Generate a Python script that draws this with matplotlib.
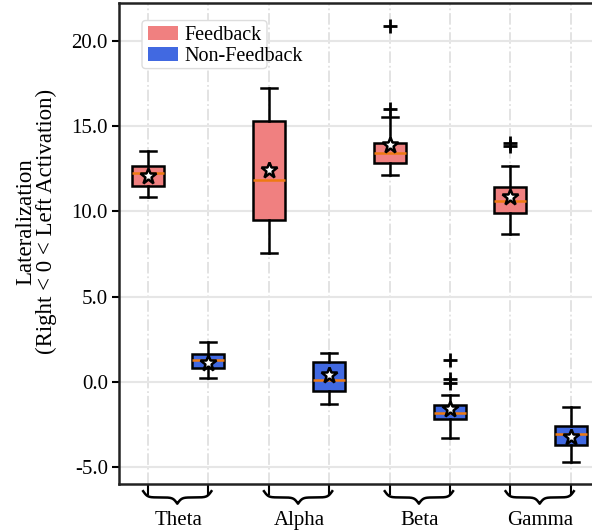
import numpy as np
import matplotlib.pyplot as plt
from matplotlib.patches import Patch, FancyBboxPatch

# ---------------------------------------------------------------------------
# data (box statistics per band)
# ---------------------------------------------------------------------------
bands = ["Theta", "Alpha", "Beta", "Gamma"]
groups = ["Feedback", "Non-Feedback"]
colors = ["#F08080", "#4169E1"]

fb_whislo = [10.83, 7.55, 12.14, 8.66]
fb_q1 = [11.50, 9.50, 12.83, 9.89]
fb_med = [12.24, 11.85, 13.39, 10.60]
fb_q3 = [12.67, 15.27, 14.00, 11.44]
fb_whishi = [13.51, 17.24, 15.53, 12.63]
fb_mean = [12.08, 12.39, 13.86, 10.81]
fb_fliers = [[], [], [15.99, 20.88], [13.80, 14.00]]

nf_whislo = [0.22, -1.31, -3.27, -4.69]
nf_q1 = [0.80, -0.51, -2.19, -3.71]
nf_med = [1.29, 0.10, -1.84, -3.07]
nf_q3 = [1.62, 1.17, -1.37, -2.60]
nf_whishi = [2.33, 1.68, -0.74, -1.48]
nf_mean = [1.13, 0.39, -1.60, -3.24]
nf_fliers = [[], [], [-0.08, 0.19, 1.29], []]

yticks = [-5.0, 0.0, 5.0, 10.0, 15.0, 20.0]

plt.rcParams['font.family'] = ['Liberation Serif', 'DejaVu Serif']


def make_stats(lo, q1, med, q3, hi, mean, fliers):
    return [dict(whislo=a, q1=b, med=c, q3=d, whishi=e, mean=f, fliers=g)
            for a, b, c, d, e, f, g in zip(lo, q1, med, q3, hi, mean, fliers)]


def draw_brace(ax, x0, x1, y_top, height, beta=28.0):
    # curly brace under the axis, x in data units, y in axes fraction
    n = 301
    x = np.linspace(x0, x1, n)
    xh = x[:n // 2 + 1]
    yh = (1 / (1 + np.exp(-beta * (xh - xh[0]))) +
          1 / (1 + np.exp(-beta * (xh - xh[-1]))))
    y = np.concatenate((yh, yh[-2::-1]))
    y = y_top - (y - 0.5) * height
    ax.plot(x, y, color='black', lw=1.8, clip_on=False,
            transform=ax.get_xaxis_transform())


stats_fb = make_stats(fb_whislo, fb_q1, fb_med, fb_q3, fb_whishi, fb_mean, fb_fliers)
stats_nf = make_stats(nf_whislo, nf_q1, nf_med, nf_q3, nf_whishi, nf_mean, nf_fliers)

pos_fb = [2 * i for i in range(len(bands))]
pos_nf = [2 * i + 1 for i in range(len(bands))]

fig = plt.figure(figsize=(5.92, 5.31), dpi=100)
ax = fig.add_axes([119 / 592, 47.5 / 531, 482 / 592, 480.5 / 531])

common = dict(
    widths=0.53, patch_artist=True, showmeans=True,
    boxprops=dict(edgecolor='black', linewidth=1.8),
    whiskerprops=dict(color='black', linewidth=1.8),
    capprops=dict(color='black', linewidth=1.8),
    medianprops=dict(color='#EE7A12', linewidth=1.8),
    meanprops=dict(marker='*', markerfacecolor='white', markeredgecolor='black',
                   markersize=12, markeredgewidth=1.8),
    flierprops=dict(marker='+', markeredgecolor='black', markersize=10,
                    markeredgewidth=2),
)

for stats, pos, col in [(stats_fb, pos_fb, colors[0]), (stats_nf, pos_nf, colors[1])]:
    bp = ax.bxp(stats, positions=pos, **common)
    for b in bp['boxes']:
        b.set_facecolor(col)

ax.set_xlim(-0.48, 7.5)
ax.set_ylim(-5.95, 22.2)

ax.set_yticks(yticks)
ax.set_yticklabels([f"{v:.1f}" for v in yticks], fontsize=15)
ax.set_xticks(pos_fb + pos_nf)
ax.set_xticklabels([])
ax.tick_params(axis='y', length=5, width=1.5, pad=3)
ax.tick_params(axis='x', length=8, width=1.5)

ax.set_axisbelow(True)
ax.yaxis.grid(True, color='#e6e6e6', linewidth=1.5, linestyle='-')
ax.xaxis.grid(True, color='#e0e0e0', linewidth=1.3, linestyle='-.')

for s in ['left', 'bottom', 'top']:
    ax.spines[s].set_linewidth(1.8)
    ax.spines[s].set_color('#222222')
ax.spines['right'].set_visible(False)

ax.set_ylabel("Lateralization\n(Right < 0 < Left Activation)", fontsize=16.5,
              linespacing=1.0)
ax.yaxis.label.set_va('center')
ax.yaxis.set_label_coords(-0.172, 0.545)

for i, name in enumerate(bands):
    draw_brace(ax, pos_fb[i] - 0.08, pos_nf[i] + 0.05, -0.016, 0.026)
    ax.text((pos_fb[i] + pos_nf[i]) / 2, -0.077, name, fontsize=15,
            ha='center', va='center', transform=ax.get_xaxis_transform())

# legend: frame drawn separately (it is narrower than the text in the original)
frame = FancyBboxPatch((0.0477, 0.8635), 0.2593, 0.1, transform=ax.transAxes,
                       boxstyle='round,pad=0,rounding_size=0.008',
                       facecolor='white', edgecolor='#dddddd', lw=1.0,
                       zorder=4, clip_on=False)
ax.add_patch(frame)
handles = [Patch(facecolor=c, edgecolor='none', label=g) for c, g in zip(colors, groups)]
leg = ax.legend(handles=handles, loc='upper left', bbox_to_anchor=(0.048, 0.965),
                borderaxespad=0, fontsize=14.5, handlelength=1.5, handletextpad=0.3,
                borderpad=0.3, labelspacing=0.1, frameon=False)
leg.set_zorder(5)

plt.savefig('out.png', dpi=100)
